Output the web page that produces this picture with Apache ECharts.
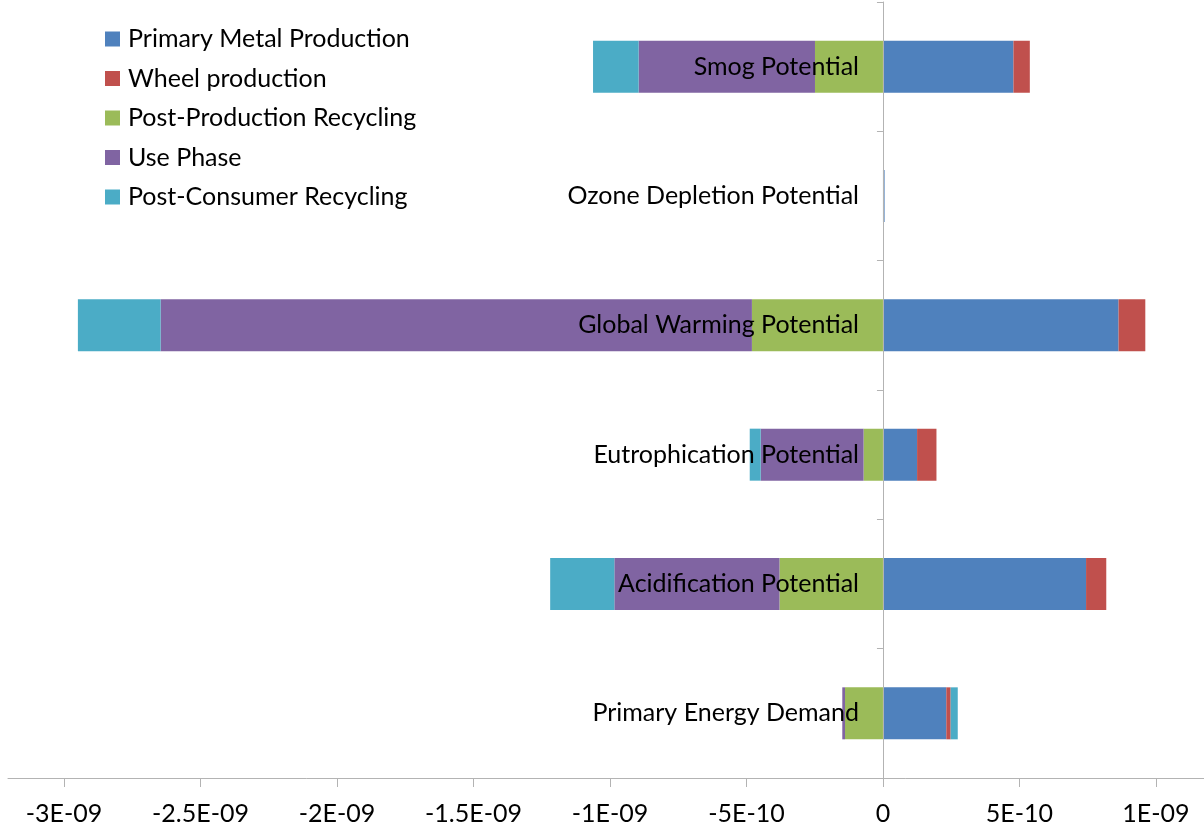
<!DOCTYPE html>
<html>
<head>
<meta charset="utf-8">
<script src="https://cdn.jsdelivr.net/npm/echarts@6/dist/echarts.min.js"></script>
<style>
  html, body { margin: 0; padding: 0; background: #fff; }
  #chart { width: 1204px; height: 827px; }
</style>
</head>
<body>
<div id="chart"></div>
<script>
// Impact categories, bottom to top
const categories = [
  'Primary Energy Demand',
  'Acidification Potential',
  'Eutrophication Potential',
  'Global Warming Potential',
  'Ozone Depletion Potential',
  'Smog Potential'
];

// Contributions per life-cycle stage
const primaryMetal      = [2.32e-10, 7.44e-10, 1.25e-10, 8.63e-10, 6e-12, 4.78e-10];
const wheelProduction   = [0.16e-10, 0.74e-10, 0.71e-10, 0.98e-10, 0, 0.60e-10];
const postProduction    = [-1.39e-10, -3.79e-10, -0.71e-10, -4.80e-10, 0, -2.49e-10];
const usePhase          = [-0.10e-10, -6.05e-10, -3.77e-10, -21.66e-10, 0, -6.46e-10];
const postConsumer      = [0.26e-10, -2.35e-10, -0.40e-10, -3.03e-10, 0, -1.67e-10];

// Axis ticks and their labels
const tickValues = [-3e-9, -2.5e-9, -2e-9, -1.5e-9, -1e-9, -5e-10, 0, 5e-10, 1e-9];
const tickLabels = ['-3E-09', '-2.5E-09', '-2E-09', '-1.5E-09', '-1E-09', '-5E-10', '0', '5E-10', '1E-09'];

const seriesNames = [
  'Primary Metal Production',
  'Wheel production',
  'Post-Production Recycling',
  'Use Phase',
  'Post-Consumer Recycling'
];
const seriesData = [primaryMetal, wheelProduction, postProduction, usePhase, postConsumer];
const colors = ['#4F81BD', '#C0504D', '#9BBB59', '#8064A2', '#4BACC6'];

const FONT = 'Lato';
const FONT_SIZE = 25;
const AXIS_GRAY = '#B3B3B3';
const GRID_LEFT = 8;

const chart = echarts.init(document.getElementById('chart'), null, { renderer: 'canvas' });

function buildOption(yOffset) {
  return {
    animation: false,
    color: colors,
    textStyle: { fontFamily: FONT },
    grid: { left: GRID_LEFT, right: 0, top: 2, bottom: 49, containLabel: false, outerBoundsMode: 'none' },
    legend: {
      orient: 'vertical',
      left: 105,
      top: 24,
      padding: 0,
      itemWidth: 15,
      itemHeight: 15,
      itemGap: 9.5,
      icon: 'rect',
      textStyle: { fontFamily: FONT, fontSize: FONT_SIZE, color: '#000', lineHeight: 30, padding: [0, 0, 0, 3] },
      data: seriesNames
    },
    xAxis: {
      type: 'value',
      min: -3.205e-9,
      max: 1.176e-9,
      splitLine: { show: false },
      axisLine: { show: true, onZero: false, lineStyle: { color: AXIS_GRAY, width: 1 } },
      axisTick: { show: true, length: 9, lineStyle: { color: AXIS_GRAY }, customValues: tickValues },
      axisLabel: {
        customValues: tickValues,
        formatter: function (v) {
          const i = tickValues.findIndex(t => Math.abs(t - v) < 1e-13);
          return i >= 0 ? tickLabels[i] : '';
        },
        fontFamily: FONT,
        fontSize: FONT_SIZE,
        color: '#000',
        margin: 23
      }
    },
    yAxis: {
      type: 'category',
      data: categories,
      z: 10,
      position: 'left',
      offset: yOffset,
      axisLine: { show: true, onZero: false, lineStyle: { color: AXIS_GRAY, width: 1 } },
      axisTick: { show: true, length: 6, lineStyle: { color: AXIS_GRAY } },
      axisLabel: { fontFamily: FONT, fontSize: FONT_SIZE, color: '#000', margin: 24 },
      splitLine: { show: false }
    },
    series: seriesNames.map((name, i) => ({
      name: name,
      type: 'bar',
      stack: 'total',
      barWidth: 52,
      data: seriesData[i],
      itemStyle: { color: colors[i] }
    }))
  };
}

chart.setOption(buildOption(0));
// Move the category axis onto the zero value of the horizontal axis
const zeroPx = chart.convertToPixel({ xAxisIndex: 0 }, 0);
chart.setOption({ yAxis: { offset: GRID_LEFT - zeroPx } });
</script>
</body>
</html>
